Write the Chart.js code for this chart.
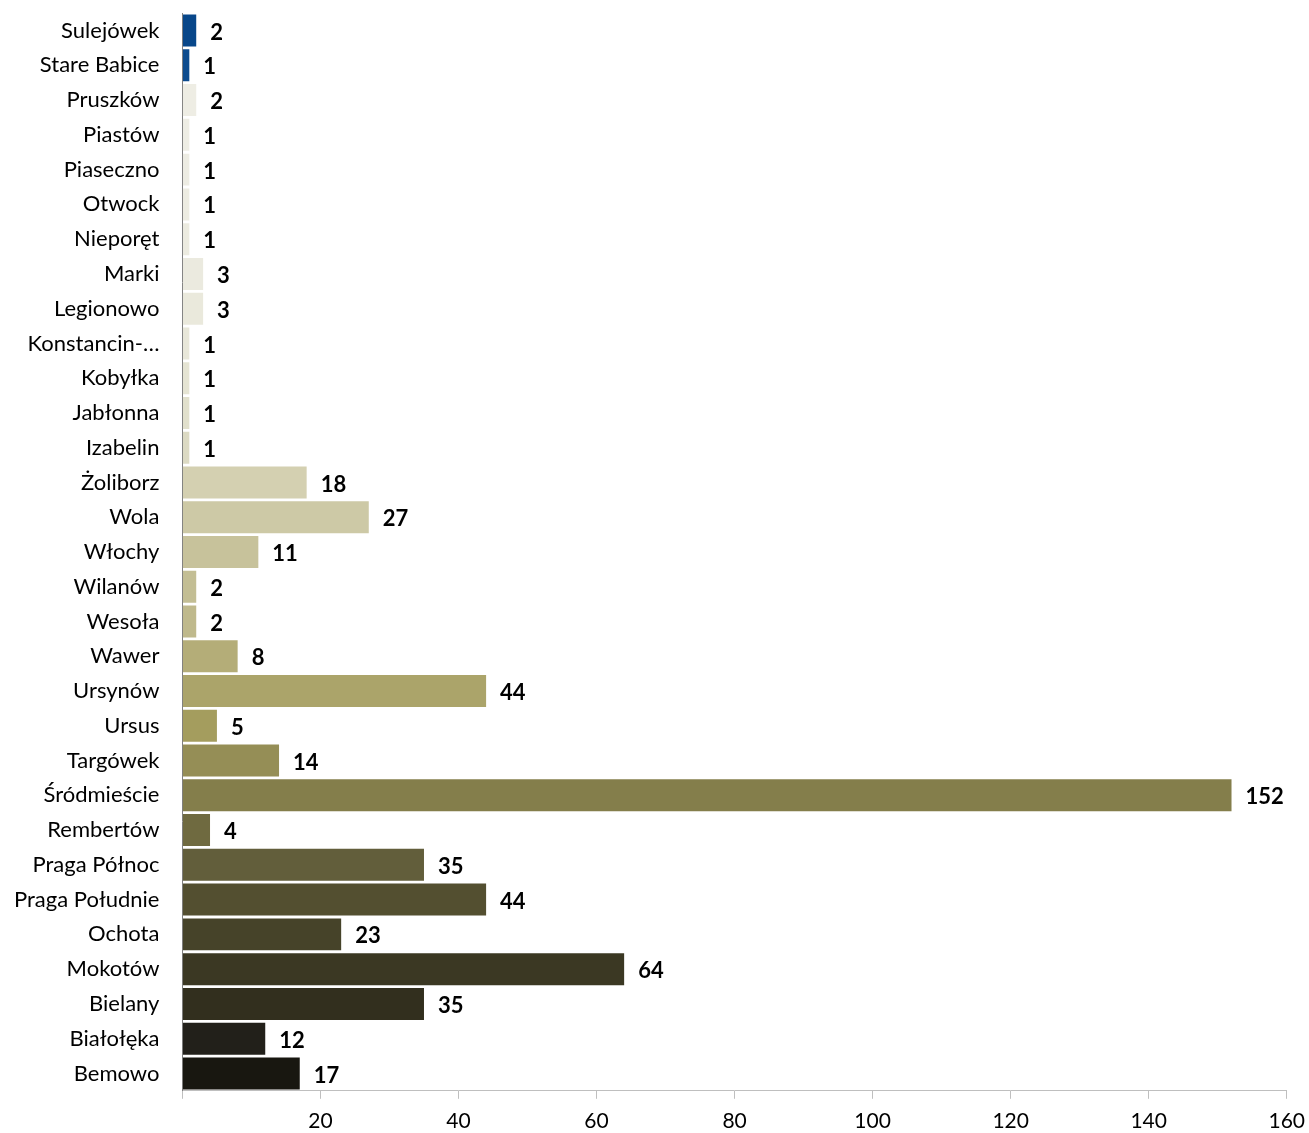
<!DOCTYPE html>
<html lang="pl">
<head>
  <meta charset="UTF-8">
  <title>Liczba według lokalizacji</title>
  <script src="https://cdn.jsdelivr.net/npm/chart.js"></script>
  <style>
    body { margin: 0; background: #fff; }
    #wrap { width: 1309px; height: 1133px; }
  </style>
</head>
<body>
  <div id="wrap"><canvas id="chart"></canvas></div>

  <script>
    const places = ['Sulejówek', 'Stare Babice', 'Pruszków', 'Piastów', 'Piaseczno', 'Otwock', 'Nieporęt',
      'Marki', 'Legionowo', 'Konstancin-…', 'Kobyłka', 'Jabłonna', 'Izabelin', 'Żoliborz', 'Wola', 'Włochy',
      'Wilanów', 'Wesoła', 'Wawer', 'Ursynów', 'Ursus', 'Targówek', 'Śródmieście', 'Rembertów',
      'Praga Północ', 'Praga Południe', 'Ochota', 'Mokotów', 'Bielany', 'Białołęka', 'Bemowo'];
    const counts = [2, 1, 2, 1, 1, 1, 1, 3, 3, 1, 1, 1, 1, 18, 27, 11, 2, 2, 8, 44, 5, 14, 152, 4, 35, 44, 23, 64, 35, 12, 17];
    const barColors = ['#08478a', '#0c4b8e', '#eeede4', '#eeede4', '#edece3', '#edece2', '#ecebe0',
      '#ebeadf', '#eae9dc', '#e8e7d9', '#e5e4d3', '#e1e0cc', '#dcdac3', '#d4d0b1', '#cdc9a6', '#c7c29b',
      '#c3be94', '#bfb98c', '#b4ad78', '#aba46a', '#a49d5e', '#958e56', '#847e4b', '#6f6a40',
      '#625e3b', '#534f30', '#464329', '#3b3823', '#322f1e', '#22201a', '#181710'];
    const xTicks = [0, 20, 40, 60, 80, 100, 120, 140, 160];

    // bold numbers to the right of each bar
    const valueLabels = {
      id: 'valueLabels',
      afterDatasetsDraw(chart) {
        const ctx = chart.ctx;
        const meta = chart.getDatasetMeta(0);
        ctx.save();
        ctx.font = 'bold 22px Lato';
        ctx.fillStyle = '#000';
        ctx.textBaseline = 'middle';
        meta.data.forEach((bar, i) => {
          ctx.fillText(String(counts[i]), bar.x + 14, bar.y + 2);
        });
        ctx.restore();
      }
    };

    new Chart(document.getElementById('chart'), {
      type: 'bar',
      data: {
        labels: places,
        datasets: [{
          data: counts,
          backgroundColor: barColors,
          barPercentage: 0.92,
          categoryPercentage: 1
        }]
      },
      options: {
        indexAxis: 'y',
        responsive: true,
        maintainAspectRatio: false,
        animation: false,
        layout: { padding: { top: 0, right: 0, left: 14, bottom: -11 } },
        plugins: {
          legend: { display: false },
          tooltip: { enabled: false }
        },
        scales: {
          x: {
            min: 0,
            max: 160,
            afterBuildTicks: scale => { scale.ticks = xTicks.map(v => ({ value: v })); },
            // let the last tick sit a little closer to the right edge
            afterFit: scale => { scale.paddingRight = Math.max(0, scale.paddingRight - 6); },
            grid: { display: true, drawOnChartArea: false, drawTicks: true, tickLength: 8, color: '#bfbfbf' },
            border: { display: true, color: '#bfbfbf' },
            ticks: {
              color: '#000',
              font: { family: 'Lato', size: 21 },
              padding: 10,
              callback: (v, i) => (i === 0 ? '' : v)
            }
          },
          y: {
            // grid hidden, but tickLength still sets the gap between labels and axis
            grid: { display: false, drawTicks: true, tickLength: 23 },
            border: { display: true, color: '#808080' },
            ticks: {
              color: '#000',
              font: { family: 'Lato', size: 22 },
              padding: 0,
              autoSkip: false
            }
          }
        }
      },
      plugins: [valueLabels]
    });
  </script>
</body>
</html>
